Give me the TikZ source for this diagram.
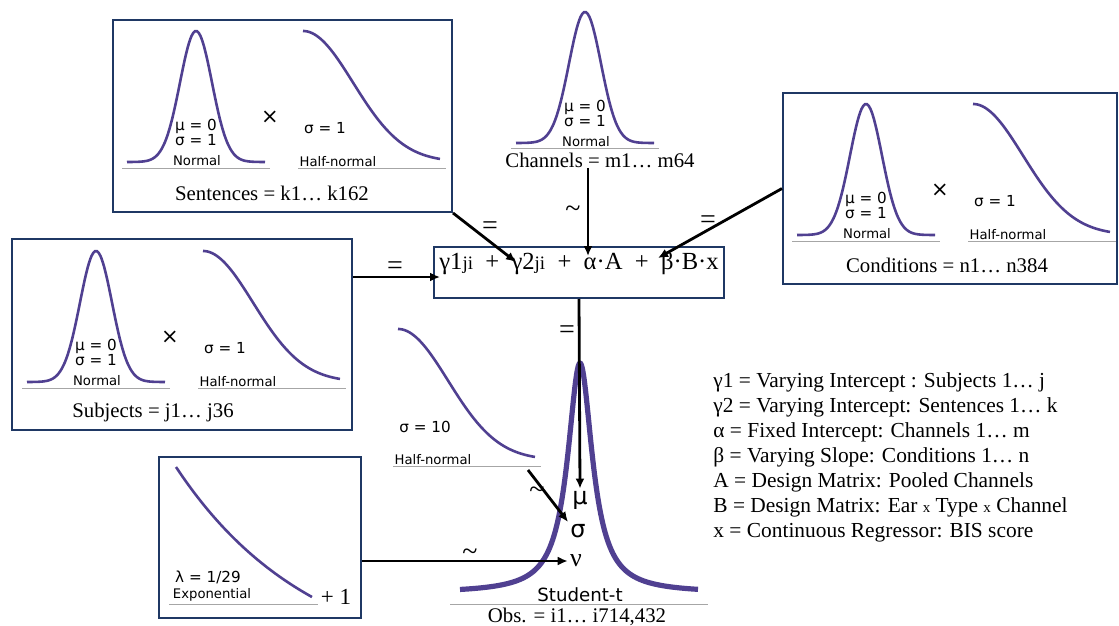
\documentclass[tikz,border=0pt]{standalone}
\usepackage{fontspec}
\setmainfont{Liberation Serif}
\newfontfamily\dvsans{DejaVu Sans}
\usetikzlibrary{arrows.meta, fit}
\definecolor{curvepurple}{RGB}{80,64,145}
\definecolor{boxnavy}{RGB}{31,56,100}

\begin{document}
\begin{tikzpicture}[x=0.5pt, y=-0.5pt, font=\fontsize{10.4}{12}\selectfont,
    box/.style={draw=boxnavy, line width=1pt, inner sep=0pt},
    density/.style={curvepurple, line width=1.3pt},
    axisline/.style={gray!70, line width=0.5pt},
    arr/.style={-{Latex[length=5pt,width=4.5pt]}, line width=1.4pt},
    dist/.style={font=\dvsans\fontsize{6.6}{7}\selectfont, inner sep=0pt},
    parm/.style={font=\dvsans\fontsize{7.6}{7.5}\selectfont, align=left, inner sep=0pt},
    crossop/.style={font=\dvsans\fontsize{10.5}{11}\selectfont, inner sep=0pt},
    lab/.style={inner sep=0pt},
    rel/.style={inner sep=0pt, font=\fontsize{14}{14}\selectfont}]
    \useasboundingbox (0,0) rectangle (1119,626);
    % Prior boxes
    \node[box, fit={(113,20) (452,212)}] (sen) {};
    \node[box, fit={(783,93) (1117,284)}] (con) {};
    \node[box, fit={(12,239) (352,430)}] (sub) {};
    \node[box, fit={(159,457) (361,618)}] (expo) {};
    \node[box, fit={(434,247) (724,298)}, font=\fontsize{12.3}{12}\selectfont] (lin)
      {γ1{\fontsize{9.5}{9}\selectfont ji}\enspace+\enspace γ2{\fontsize{9.5}{9}\selectfont ji}\enspace+\enspace α·A\enspace+\enspace β·B·x};
    % Normal curves
    \foreach \cx/\by in {196/162, 585/143, 866/235, 96/382} {
      \draw[density] plot[domain=-69:69, samples=80, smooth]
        ({\cx+\x}, {\by-131*exp(-0.5*(\x/16)*(\x/16))});
      \draw[axisline] (\cx-74,\by+6) -- (\cx+74,\by+6);
      \node[dist] (nl-\cx) at (\cx+1,\by-1) {Normal};
      \node[parm] (np-\cx) at (\cx,\by-30) {μ = 0\\σ = 1};
    }
    % Half-normal curves
    \foreach \hx/\by in {303/162, 973/235, 203/382, 398/460} {
      \draw[density] plot[domain=0:137, samples=60, smooth]
        ({\hx+\x}, {\by-131*exp(-0.5*(\x/50)*(\x/50))});
      \draw[axisline] (\hx-5,\by+6) -- (\hx+143,\by+6);
      \node[dist] (hl-\hx) at (\hx+35,\by) {Half-normal};
    }
    \foreach \hx/\by in {303/162, 973/235, 203/382} {
      \node[parm] (hp-\hx) at (\hx+22,\by-34) {σ = 1};
      \node[crossop] (x-\hx) at (\hx-33,\by-45) {×};
    }
    \node[parm] (hp10) at (425,427) {σ = 10};
    % Exponential
    \draw[density] plot[domain=0:136, samples=50, smooth]
      ({176+\x}, {467+130*(1-exp(-\x/136))/0.63212});
    \draw[axisline] (169,604) -- (318,604);
    \node[dist] (exl) at (212,595) {Exponential};
    \node[parm] (lam) at (208,577) {λ = 1/29};
    \node[lab, font=\fontsize{11.5}{11}\selectfont] (plus) at (336,597) {+ 1};
    % Student-t likelihood
    \draw[density, line width=2.6pt] plot[domain=-120:118, samples=160, smooth]
      ({580+\x}, {593-230/(1+(\x/15)*(\x/15))});
    \draw[axisline] (450,604) -- (708,604);
    \node[dist, font=\dvsans\fontsize{9.1}{10}\selectfont] (stt) at (580,595) {Student-t};
    \node[lab] (obs) at (577,617) {Obs. = i1… i714,432};
    \node[lab, inner sep=1pt, font=\dvsans\fontsize{12}{12}\selectfont] (mu) at (580,500) {μ};
    \node[lab, inner sep=1pt, font=\dvsans\fontsize{12}{12}\selectfont] (sig) at (578,531) {σ};
    \node[lab, inner sep=1pt, font=\fontsize{13}{13}\selectfont] (nu) at (576,561) {ν};
    % Titles
    \node[lab] (sentit) at (272,193) {Sentences = k1… k162};
    \node[lab] (chatit) at (600,160) {Channels = m1… m64};
    \node[lab] (contit) at (947,265) {Conditions = n1… n384};
    \node[lab] (subtit) at (153,412) {Subjects = j1… j36};
    % Arrows
    \coordinate (g1) at (440,277);
    \coordinate (g2) at (516,262);
    \coordinate (al) at (588,256);
    \coordinate (be) at (658,258);
    \coordinate (hn) at (528,470);
    \draw[arr] (sen.south east) -- (g2);
    \draw[arr] (al |- chatit.south) -- (al);
    \draw[arr] (con.west) -- (be);
    \draw[arr] (sub.east |- g1) -- (g1);
    \draw[arr] (lin.south) -- (mu.north);
    \draw[arr] (hn) -- (sig.north west);
    \draw[arr] (expo.east |- nu.west) -- (nu.west);
    \node[rel] (eqa) at (490,228) {=};
    \node[rel] (tla) at (573,212) {\textasciitilde};
    \node[rel] (eqb) at (708,222) {=};
    \node[rel] (eqc) at (395,268) {=};
    \node[rel] (eqd) at (567,332) {=};
    \node[rel] (tlb) at (537,493) {\textasciitilde};
    \node[rel] (tlc) at (470,555) {\textasciitilde};
    % Key
    \node[lab, anchor=north west, align=left, font=\fontsize{10.7}{12.5}\selectfont] (key) at (713,372)
      {γ1 = Varying Intercept : Subjects 1… j\\
       γ2 = Varying Intercept: Sentences 1… k\\
       α = Fixed Intercept: Channels 1… m\\
       β = Varying Slope: Conditions 1… n\\
       A = Design Matrix: Pooled Channels\\
       B = Design Matrix: Ear {\fontsize{7.5}{8}\selectfont x} Type {\fontsize{7.5}{8}\selectfont x} Channel\\
       x = Continuous Regressor: BIS score};
\end{tikzpicture}
\end{document}
